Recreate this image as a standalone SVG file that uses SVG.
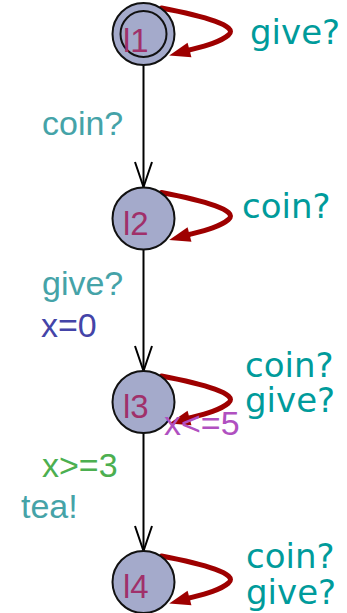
<svg xmlns="http://www.w3.org/2000/svg" width="347" height="613" viewBox="0 0 347 613">
<style>
.loc{fill:#a4aacb;stroke:#111;stroke-width:2}
.lname{font-family:"Liberation Sans",Arial,sans-serif;font-size:33px;fill:#a0306a}
.edge{stroke:#000;stroke-width:2;fill:none}
.loop{stroke:#9e0000;stroke-width:5;fill:none;stroke-linecap:round}
.big{font-family:"DejaVu Sans",Verdana,sans-serif;font-size:34px;fill:#009b9b}
.lbl{font-family:"Liberation Sans",Arial,sans-serif;font-size:34px}
.sync{fill:#45a3a8}
.assign{fill:#4444a8}
.guard{fill:#4caf50}
.inv{fill:#b050c0}
</style>
<defs>
<marker id="open" markerUnits="userSpaceOnUse" markerWidth="30" markerHeight="22" viewBox="-27 -11 30 22" refX="0" refY="0" orient="auto">
<path d="M-25,-8.5 L0,0 L-25,8.5" fill="none" stroke="#000" stroke-width="2"/>
</marker>
<marker id="solid" markerUnits="userSpaceOnUse" markerWidth="26" markerHeight="20" viewBox="-2 -10 26 20" refX="0" refY="0" orient="auto">
<path d="M0,-7.5 L21,0 L0,7.5 z" fill="#9e0000"/>
</marker>
<path id="loopPath" class="loop" d="M18,-26 C60,-18 96,-8 85,1 C77,8 61,12 46,16" marker-end="url(#solid)"/>
</defs>
<rect width="347" height="613" fill="#fff"/>
<g id="connectors">
<line class="edge" x1="143.5" y1="65" x2="143.5" y2="187" marker-end="url(#open)"/>
<line class="edge" x1="143.5" y1="250" x2="143.5" y2="371" marker-end="url(#open)"/>
<line class="edge" x1="143.5" y1="433" x2="143.5" y2="551" marker-end="url(#open)"/>
<use href="#loopPath" x="143.5" y="34"/>
<use href="#loopPath" x="143.5" y="218.5"/>
<use href="#loopPath" x="143.5" y="402"/>
<use href="#loopPath" x="143.5" y="582"/>
<text class="lbl sync" x="42" y="135">coin?</text>
<text class="lbl sync" x="42" y="295">give?</text>
<text class="lbl assign" x="41" y="337">x=0</text>
<text class="lbl guard" x="42" y="477">x&gt;=3</text>
<text class="lbl sync" x="21" y="518">tea!</text>
<text class="big" x="250" y="44">give?</text>
<text class="big" x="242" y="218">coin?</text>
<text class="big"><tspan x="245" y="377">coin?</tspan><tspan x="245" y="412">give?</tspan></text>
<text class="big"><tspan x="246" y="568">coin?</tspan><tspan x="246" y="604">give?</tspan></text>
</g>
<g id="l1">
<circle class="loc" cx="143.5" cy="34" r="31"/>
<circle class="loc" cx="143.5" cy="34" r="23"/>
<text class="lname" x="123" y="52">l1</text>
</g>
<g id="l2">
<circle class="loc" cx="143.5" cy="218.5" r="31"/>
<text class="lname" x="123" y="235">l2</text>
</g>
<g id="l3">
<circle class="loc" cx="143.5" cy="402" r="31"/>
<text class="lname" x="123" y="418">l3</text>
<text class="lbl inv" x="164" y="435">x&lt;=5</text>
</g>
<g id="l4">
<circle class="loc" cx="143.5" cy="582" r="31"/>
<text class="lname" x="123" y="598">l4</text>
</g>
</svg>
